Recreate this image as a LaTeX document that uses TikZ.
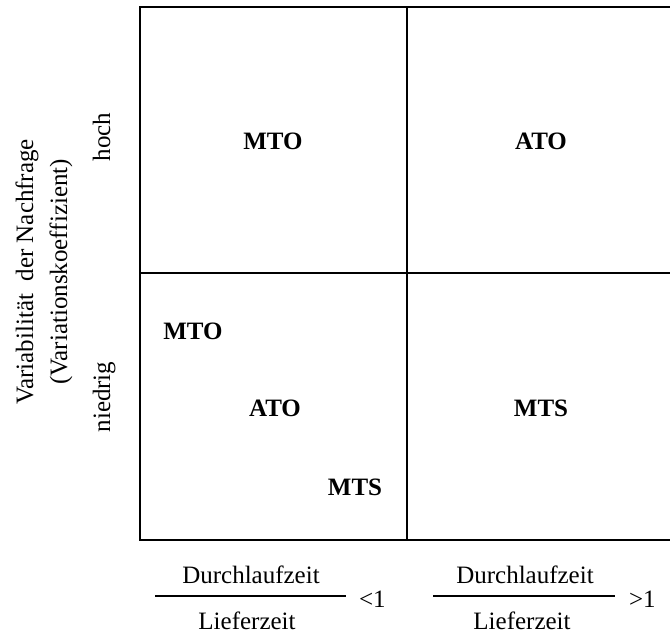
\documentclass[tikz,border=0pt]{standalone}
\usepackage{fontspec}
\setmainfont{Liberation Serif}
\begin{document}
\begin{tikzpicture}[x=1pt,y=-1pt,
  every node/.style={inner sep=0pt,outer sep=0pt,font=\fontsize{25}{30}\selectfont},
  strategy/.style={font=\fontsize{25}{30}\selectfont\bfseries},
  gridline/.style={line width=2.4pt,line cap=rect},
  fracbar/.style={line width=1.5pt},
  axislabel/.style={rotate=90,anchor=base}]
  \useasboundingbox (0,0) rectangle (670,635);
  \clip (0,0) rectangle (670,635);

  % 2x2 portfolio grid (right edge runs off the page)
  \coordinate (tl) at (140,7);
  \coordinate (br) at (700,540);
  \coordinate (vtop) at (407,7);
  \coordinate (vbot) at (407,540);
  \coordinate (hl) at (140,273);
  \coordinate (hr) at (700,273);
  \draw[gridline] (tl) rectangle (br);
  \draw[gridline] (vtop) -- (vbot);
  \draw[gridline] (hl) -- (hr);

  % strategies per quadrant
  \node[strategy] (q1) at (273,141) {MTO};
  \node[strategy] (q2) at (541,141) {ATO};
  \node[strategy] (q3a) at (193,331) {MTO};
  \node[strategy] (q3b) at (275,408) {ATO};
  \node[strategy] (q3c) at (355,487) {MTS};
  \node[strategy] (q4) at (541,408) {MTS};

  % vertical axis
  \node[axislabel] (ylab1) at (33,272) {Variabilität\ \ der Nachfrage};
  \node[axislabel] (ylab2) at (67,272) {(Variationskoeffizient)};
  \node[axislabel] (hoch) at (110,137) {hoch};
  \node[axislabel] (niedrig) at (110,397) {niedrig};

  % horizontal axis: ratio of lead time to delivery time
  \node[anchor=base] (num1) at (251,583) {Durchlaufzeit};
  \node[anchor=base] (den1) at (247,629) {Lieferzeit};
  \coordinate (bar1a) at (155,596);
  \coordinate (bar1b) at (346,596);
  \draw[fracbar] (bar1a) -- (bar1b);
  \node[anchor=base west] (lt) at (359,607) {<1};

  \node[anchor=base] (num2) at (525,583) {Durchlaufzeit};
  \node[anchor=base] (den2) at (522,629) {Lieferzeit};
  \coordinate (bar2a) at (433,596);
  \coordinate (bar2b) at (615,596);
  \draw[fracbar] (bar2a) -- (bar2b);
  \node[anchor=base west] (gt) at (629,607) {>1};
\end{tikzpicture}
\end{document}
